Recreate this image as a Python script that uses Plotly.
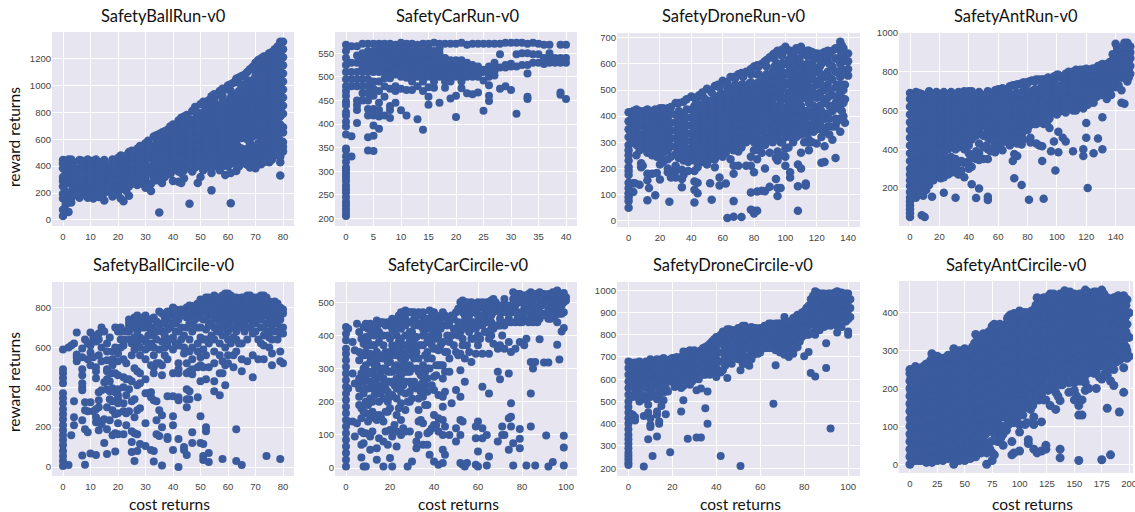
import plotly.graph_objects as go

BLUE = "#3A5B9E"
BG = "#E6E5F0"
W, H = 1135, 512

BALL_RUN = {
 0:[30,75,160,195,250,290,320,385,420,445], 1:[115,210,270,350,440], 2:[60,130,160,300,400,450],
 3:[130,160,210,265,310,360,405,450], 6:[165,225,280,335,385,445], 9:[165,220,270,320,370,410,450],
 11:[160,240,300,440], 12:[205,260,355,400,450], 15:[145,200,250,295,345,395,445], 18:[175,235,285,330,380,430,450],
 21:[160,230,290,340,395,440,480], 22:[140,250,370], 24:[180,250,300,350,400,450,505], 27:[260,310,360,420,470,530],
 30:[240,300,350,400,445,500,570], 32:[215,270,530], 33:[320,370,430,490,550,620], 35:[55], 36:[275,345,400,460,510,570,650],
 39:[340,400,450,510,570,630,695], 40:[290], 42:[285,360,420,480,540,600,660,740], 43:[275], 44:[310], 46:[120],
 45:[400,460,510,570,630,690,780], 48:[390,450,510,570,630,690,750,840], 49:[275], 50:[320],
 51:[370,440,500,560,620,680,740,800,880], 54:[220,350,420,470,530,590,650,710,770,830,920],
 57:[370,430,490,550,610,670,730,790,850,960], 59:[335], 60:[400,460,520,580,640,700,760,820,880,1000], 61:[125,350],
 63:[365,450,510,570,630,690,750,810,870,930,1050], 66:[440,500,640,700,760,820,880,940,1000,1080],
 68:[390,460,520,660,720,780,840,900,960,1020,1120], 70:[385,450,510,650,710,770,830,890,950,1010,1070,1170],
 72:[415,480,540,600,660,720,780,840,900,960,1020,1080,1200], 75:[430,490,550,610,670,730,790,850,910,970,1030,1090,1150,1240],
 77:[480,540,600,660,720,780,840,900,960,1020,1080,1140,1200,1270], 79:[330,430,470,530,590,650,710,770,830,890,950,1010,1070,1130,1190,1250,1325],
 80:[510,545,580,650,690,790,850,910,970,1030,1090,1150,1210,1270,1325],
}
BALL_RUN_MORE = {
 4:[185,240,290,340,385,430], 7:[190,245,300,360,410,440], 10:[190,245,295,345,390,435], 13:[170,230,280,330,375,425],
 17:[210,265,315,360,410], 20:[205,265,315,370,420,460], 23:[215,275,325,375,425,480], 26:[285,335,390,445,500],
 29:[270,325,375,425,475,540], 31:[345,395,460,520,590], 34:[295,350,400,460,520,590,630], 38:[370,425,480,540,600,670],
 41:[390,450,510,570,630,700], 44:[370,430,485,540,600,660,730,770], 47:[360,425,480,540,600,660,720,810],
 50:[400,470,530,590,650,710,770,860], 53:[390,445,500,560,620,680,740,800,890], 56:[400,460,520,580,640,700,760,820,930],
 59:[430,490,550,610,670,730,790,850,970], 62:[420,480,540,600,660,720,780,840,900,1020], 65:[420,470,650,710,770,830,890,950,1070],
 67:[410,480,530,670,730,790,850,910,970,1040,1100], 69:[420,480,690,750,800,860,920,980,1040,1140],
 71:[450,520,570,630,690,750,810,870,930,990,1050,1110,1190], 74:[460,520,580,640,700,760,820,880,940,1000,1060,1120,1220],
 76:[450,510,570,630,690,750,810,870,930,990,1050,1110,1170,1250], 78:[510,570,630,690,750,810,870,930,990,1050,1110,1170,1230,1290],
}
BALL_RUN_EDGE = {
 46:[430,490,550,610,670,730,750], 49:[420,480,540,600,660,720,780,800], 52:[410,470,530,590,650,710,770,830,860],
 55:[400,450,510,570,630,690,750,810,870,900,935], 58:[400,460,520,580,640,700,760,820,880,920,975],
 61:[430,490,550,610,670,730,790,850,910,960,1010], 64:[400,480,540,660,720,780,840,900,960,1020,1060],
 73:[430,510,570,630,690,750,810,870,930,990,1050,1110,1170,1215], 65:[530,610], 69:[540,620], 68:[570,610], 67:[600],
 70:[1110,1140], 72:[1140,1170], 75:[1200], 76:[1210],
 14:[180,240,290,340,385,430], 19:[190,250,300,350,400,445], 25:[270,320,370,420,475,515], 28:[290,340,395,445,500,550],
 35:[310,370,425,485,545,605,640], 37:[320,385,440,490,550,610,660], 40:[370,430,490,550,610,665,710], 43:[350,400,460,520,580,640,700,760],
}
CAR_RUN = {
 0:[205,212,220,228,235,245,255,262,270,280,288,295,302,308,320,332,345,348,378,395,405,418,425,440,448,460,470,480,495,510,525,540,555,568],
 1:[331,374,480,495,510,530,565], 2:[402,430,440,450,480,495,530,565], 3:[450,465,480,495,520,550,570],
 4:[344,372,418,432,450,465,480,495,525,545,570], 5:[343,375,397,418,432,460,475,510,530,555,570],
 6:[390,416,430,445,470,490,510,535,555,570], 7:[418,458,497,510,530,550,570], 8:[413,430,438,475,497,515,535,555,570],
 9:[445,470,480,505,525,545,568], 10:[429,475,500,520,540,560,572], 11:[418,472,498,515,535,555,570],
 12:[472,505,525,545,570], 13:[410,480,500,520,540,560,568], 14:[388,470,490,505,525,545,570],
 15:[441,458,478,500,520,540,560,570], 16:[477,505,525,545,572], 17:[445,510,530,550,570], 18:[477,490,510,525,570],
 19:[454,490,515,535,570], 20:[415,460,510,525,570], 21:[476,490,515,535,572], 22:[465,500,515,530,568], 23:[463,510,525,570],
 24:[467,500,515,570], 25:[428,492,510,515,570], 26:[449,460,482,500,515,570], 27:[503,520,530,570], 28:[475,520,548,570],
 29:[480,520,572], 30:[472,522,572], 31:[422,522,548,572], 32:[525,550,572], 33:[453,458,507,525,550,570], 34:[530,548,572],
 35:[530,548,570], 36:[527,540,568], 37:[530,538,550,568], 38:[530,540], 39:[462,467,530,540,568], 40:[453,530,540,568],
}
CAR_RUN_MORE = {
 2:[510,545], 3:[510,535], 4:[510,535,555], 5:[490,520,545], 6:[525,545,565], 7:[480,520,540,560], 8:[505,525,545,565],
 9:[515,535,555], 10:[510,530,550], 11:[505,525,545,565], 12:[490,515,535,555], 13:[510,530,550], 14:[515,535,555],
 15:[510,530,550], 16:[490,515,535,555], 17:[500,520,540,560], 18:[500,520,540], 19:[505,525], 20:[500,520,535], 21:[505,525],
 22:[505,522], 23:[500,518], 24:[508,522], 26:[510,522], 27:[512], 29:[525], 30:[528],
}
DRONE_RUN = {
 0:[50,75,90,105,125,145,175,190,205,230,250,270,290,320,350,380,415], 3:[110,143,300,360,420], 4:[143], 5:[250,290,320,350,380,410,425], 7:[138],
 8:[205,220], 9:[210], 10:[275,305,335,365,395,420], 12:[78,155,180], 13:[125], 15:[180,250,280,310,340,370,400,420], 17:[97],
 18:[183,245], 20:[158,215,245,275,305,335,365,395,430], 25:[185,200,235,270,300,330,360,395,430], 26:[73], 27:[165,190],
 30:[165,190,210,255,285,315,345,375,405,450], 34:[128,160,195], 35:[175,230,260,290,320,350,380,410,455], 38:[190,225,260],
 40:[245,275,305,335,365,395,425,475], 42:[70,118,150,190], 44:[105,145,205,240], 45:[270,300,330,360,390,420,480],
 50:[215,250,280,310,340,370,400,430,460,505], 52:[143], 53:[80], 55:[205,235,265,295,325,355,385,415,445,475,515], 58:[135,165],
 60:[245,275,305,335,365,395,425,455,485,535], 62:[142], 63:[10], 65:[235,285,315,345,375,405,435,465,495,550], 67:[15,75,180],
 70:[210,265,295,325,355,385,415,445,475,505,560], 72:[14], 75:[210,300,330,360,390,420,450,480,510,570], 78:[42,108,210,245],
 80:[28,38,185,270,300,330,360,390,420,450,480,510,590], 82:[38,112,235], 85:[115,260,300,340,380,410,440,470,500,530,600], 87:[113,200],
 90:[130,260,320,360,400,430,460,490,520,550,625], 94:[160,240], 95:[95,125,230,265,320,350,390,430,480,510,540,570,600,650], 97:[125],
 100:[210,245,275,320,360,400,430,470,520,560,600,665], 103:[165,185], 105:[300,340,380,420,460,500,540,580,640], 108:[38,132,215],
 110:[200,260,330,370,400,440,490,530,570,600,665], 113:[135,142], 115:[270,310,350,400,450,490,540,580,650],
 120:[295,350,380,420,470,520,570,620,640], 123:[222,320], 125:[225,285,340,390,450,500,550,610,645], 130:[310,360,420,480,540,590,650],
 132:[240], 135:[340,390,440,490,550,600,650,685], 138:[375,465,520,570,620,640], 140:[555,580,610,640],
}
DRONE_RUN_MORE = {
 2:[300,330,360,390,415], 7:[270,300,330,360,390,420], 12:[260,290,320,350,380,410,425], 17:[260,290,320,350,380,410,425],
 22:[225,260,290,320,350,380,410,430], 27:[245,285,315,345,375,410,435], 32:[240,270,300,330,360,390,420,450],
 37:[245,275,305,335,365,395,425,465], 42:[230,260,290,320,350,380,410,440,470], 47:[225,265,295,325,355,385,415,445,490],
 52:[235,265,295,325,355,385,415,445,500], 57:[250,280,310,340,370,400,430,460,520], 62:[260,290,320,350,380,410,440,470,530],
 67:[210,270,300,330,360,390,420,450,480,510,550], 72:[280,310,340,370,400,430,460,490,520,565], 77:[315,345,375,405,435,465,495,525,570],
 82:[285,315,345,375,405,435,465,495,525,560,595], 87:[290,325,365,400,430,460,490,520,550,610], 92:[300,345,380,415,445,475,505,535,570,635],
 97:[250,300,340,370,410,455,495,525,560,590,640], 102:[280,340,380,420,450,490,530,570,610,650], 107:[320,360,400,440,480,520,560,600,660],
 112:[300,350,390,420,470,510,550,590,640], 117:[300,370,420,470,510,560,600,645], 122:[370,400,440,490,540,590,630],
 127:[360,410,470,520,570,620,650], 132:[360,390,450,510,570,620,660], 137:[400,450,500,560,610,660],
}
DRONE_RUN_EDGE = {
 43:[250,280,310,340,370,400,430,460], 48:[240,290,320,350,380,410,440,470], 53:[250,280,310,340,370,400,430,460,490],
 58:[270,300,330,360,390,420,450,480,510], 63:[270,300,330,360,390,420,450,480,510,530], 68:[280,310,340,370,400,430,460,490,520,545],
 73:[310,340,370,400,430,460,490,520,550], 78:[320,350,380,410,440,470,500,530,560,580], 83:[270,310,350,380,410,440,470,500,530,560,590],
 88:[300,340,380,410,440,470,500,530,560,590,615], 93:[320,360,400,440,470,500,530,560,590,620,640], 98:[300,350,390,430,470,510,540,570,600,630,655],
 103:[320,360,400,440,480,520,560,590,620,650], 106:[350,390,430,470,510,550,590,620,650], 109:[340,390,420,460,500,540,580,620,650],
 114:[300,330,370,420,470,520,560,600,630,650], 118:[340,400,440,490,540,590,620,640], 123:[350,420,470,520,560,600,640],
 128:[330,390,440,500,550,600,640], 133:[380,430,470,520,570,620,660], 136:[390,420,470,520,580,630,670],
}
ANT_RUN = {
 0:[50,70,90,110,130,150,180,210,240,270,300,340,380,420,460,500,540,580,620,660,690], 4:[150,190,230,270,310,350,390,430,470,510,550,590,630,670,695],
 8:[60,165,205,245,285,325,365,405,445,485,525,565,605,645,685], 10:[50], 9:[160], 13:[215,255,295,335,375,415,455,495,535,575,615,655,700], 15:[155],
 18:[260,300,340,380,420,460,500,540,580,620,660,695], 23:[175,255,300,340,380,420,460,500,540,580,620,660,695],
 28:[280,320,360,420,460,500,540,580,620,660,695], 31:[150], 33:[270,330,410,450,490,530,570,610,650,695],
 37:[255,330,400,440,480,520,560,600,640,700], 42:[220,310,360,450,490,530,570,610,650,700], 45:[148],
 47:[197,345,380,430,500,540,580,620,660,695], 53:[138,155,350,400,460,500,540,580,620,660,700], 58:[385,430,470,510,550,590,630,670,705],
 63:[395,450,490,530,570,610,650,715], 68:[420,460,500,540,580,620,660,725], 70:[340], 71:[250,375], 73:[365,430,470,510,550,590,630,670,735],
 76:[215,425,470,510,550,590,630,670,740], 81:[140,520,560,600,640,680,750], 82:[435,460], 86:[430,530,570,610,650,690,760],
 88:[420], 90:[340,415], 91:[145,530,570,610,650,690,760], 95:[510,560,600,640,680,720,765], 96:[390], 98:[440], 99:[290],
 101:[385,490,590,630,670,710,785], 104:[460], 106:[440,590,640,680,720,760,790], 111:[390,600,640,680,720,760,800], 118:[365,400,610,650,690,730,770,810],
 120:[460,535], 121:[200,630], 125:[380,640,680,720,760,790,815], 128:[455,680,720,760,800,830], 131:[400,565,700,740,780,820,840],
 134:[660,700,740,780,840], 137:[680,720,760,800,850], 140:[720,760,800,840,880,945], 144:[640,705,770,810,850,890,920],
 146:[635,790,830,870,910,950], 148:[750,790,830,870,910,950], 150:[790,830,870,900,930],
}
ANT_RUN_MORE = {
 2:[160,200,240,290,330,370,410,450,490,530,570,610,650,680], 6:[170,210,250,290,330,370,410,450,490,530,570,610,650,690],
 11:[190,235,275,315,355,395,435,475,515,555,595,635,680], 16:[240,280,320,360,400,440,480,520,560,600,640,680],
 21:[250,290,320,360,400,440,480,520,560,600,640,680], 26:[270,310,350,400,440,480,520,560,600,640,680],
 31:[280,310,350,400,440,480,520,560,600,640,680], 35:[290,340,430,470,510,550,590,630,670], 40:[300,340,380,420,470,510,550,590,630,670,700],
 45:[350,390,470,510,550,590,630,670], 50:[350,410,470,520,560,600,640,680], 55:[390,450,490,520,560,600,640,680],
 60:[410,470,510,550,590,630,670,710], 65:[440,510,550,590,630,670,710], 70:[450,480,520,560,600,640,680,730], 75:[490,530,570,610,650,690,735],
 78:[520,560,600,640,680,720,745], 83:[530,580,620,660,700,755], 88:[540,590,630,670,710,760], 93:[550,590,630,670,710,760],
 98:[590,630,670,710,750,775], 103:[600,650,690,730,770], 108:[620,660,700,740,780,800], 113:[600,620,660,700,740,780,810],
 116:[620,660,700,740,780,810], 122:[650,690,730,770,810], 127:[670,700,740,780,820], 133:[690,720,760,800,830], 136:[700,740,780,820,850],
 139:[740,780,820,860,890], 142:[730,780,820,860,900,910], 147:[810,850,890,930], 149:[770,810,850,890,930],
}
ANT_RUN_EDGE = {
 52:[420,480,520,560,600,640,680], 57:[410,450,490,530,570,610,650,690], 62:[430,470,510,550,590,630,670,700], 67:[440,480,520,560,600,640,680,715],
 72:[450,490,530,570,610,650,690,730], 77:[450,490,530,570,610,650,690,730,745], 80:[500,540,580,620,660,700,740], 85:[530,550,590,630,670,710,750],
 90:[540,570,610,650,690,730,760], 94:[550,580,620,660,700,740,770], 100:[580,610,650,690,730,770,785], 105:[600,620,660,700,740,780],
 110:[620,660,700,740,780], 115:[640,680,720,760,800], 120:[640,680,720,760,800,815], 124:[660,700,740,780,815], 130:[680,720,760,800,835],
 135:[720,760,800,840], 138:[740,780,820,860,890], 141:[790,830,870,905,925], 143:[800,840,880,920], 145:[770,810,850,890,930],
}
BALL_CIRCLE = {
 0:[5,30,55,80,110,135,160,185,210,240,265,290,320,345,370,420,445,470,490,590], 2:[10,600], 3:[160,610], 4:[210,250,330,620], 5:[530,550,565,675],
 7:[58,235,385,400,420,460,490,550,595], 8:[12,190,285,325,640], 9:[175,280,540,620], 10:[68,325,510,575,610,675], 12:[60,225,250,290,445,480,500,630,650],
 13:[185,230,300,335,375,560,640,670], 14:[215,385,530,600,700], 15:[120,240,425,680], 16:[65,190,300,390,440,490,535,620], 17:[235,340,380,430,470,650],
 18:[160,285,330,395,510,540,580], 19:[78,170,265,375,470,600,700], 20:[165,220,340,360,530,570,680], 22:[165,280,320,400,450,540,610,640],
 23:[210,270,360,440,520,680], 25:[75,125,180,330,430,560,620,720], 26:[30,170,250,340,495,590,750], 27:[80,165,285,410,480,620,680,760], 28:[115,295,470,650,700],
 30:[105,220,370,440,540,590,630,700,760], 32:[85,350,375,510,620,680], 33:[28,80,335,470,500,600,660,750], 34:[165,235,330,520,640,730], 35:[155,285,520,590,700,780],
 36:[8,200,260,460,510,630,680], 38:[140,150,355,540,610,690,740], 40:[85,210,255,355,470,590,650,720,760,800], 42:[0,140,335,350,470,490,520,610,680,740],
 44:[85,100,570,600,660,780], 45:[60,300,340,390,470,520,700,750,800], 46:[340,380,480,580,640,720,780,810], 47:[120,175,465,490,540,600,680,800],
 49:[350,500,580,620,700,760,820], 50:[120,255,430,510,550,650,790,840], 51:[35,55,115,500,590,640,740,830], 52:[180,200,440,560,690,800,850], 53:[25,70,500,620,760,830],
 55:[380,430,520,580,640,700,770,820,860], 57:[360,470,560,620,680,740,800,850], 58:[40,470,530,660,790], 59:[410,510,600,700,750,800,870], 60:[520,560,640,720,780,840],
 62:[500,560,650,700,740,800,850], 63:[30,190,580,680,760,820], 65:[10,480,540,620,710,780,850], 67:[530,640,740,800,860], 69:[450,560,670,720,780,840],
 71:[540,640,740,800,850], 73:[540,610,660,760,860], 74:[55], 75:[600,680,780,830], 76:[510,570,640,710,790,820], 78:[640,720,760,800], 79:[40,530,580,670,800], 80:[520,670,700,770,790],
}
BALL_CIRCLE_MORE = {
 11:[280,550,640,660], 16:[480,580], 18:[390,470], 20:[270,320,390,460], 21:[600,640,680,700], 24:[280,390,440,640,680,720,740], 26:[650,700,730], 28:[420],
 29:[640,700,750], 31:[370,600,660,720], 33:[560], 36:[720,770], 37:[560,600,660], 39:[640,700,760,780], 41:[620,680,740,790], 43:[640,700,760,790],
 47:[720,760], 48:[700,770,810], 50:[700,750,820], 52:[640,740,780,830], 54:[660,720,780,840], 56:[680,740,800,850], 58:[720,760,820,860], 60:[680,750,800,820,870],
 61:[620,700,760,830,860], 63:[640,720,790,850], 64:[620,700,750,810,840], 66:[680,740,770,820,850], 68:[700,760,820,860], 70:[680,750,800,850], 72:[620,700,770,820,860],
 74:[680,720,800,850], 75:[650,730,810], 77:[680,750,800,830], 79:[700,740,780],
}
BALL_CIRCLE_EDGE = {
 24:[700], 27:[730], 28:[560,600], 29:[720], 31:[740], 32:[700,740], 34:[680,700], 37:[720,750], 38:[640,780], 41:[720,770],
 46:[750], 48:[740,790], 49:[790], 51:[780,810], 53:[710,790,850], 54:[810], 55:[740,800], 56:[770,830], 57:[710,770,830], 59:[660,730,780,830], 60:[760,810],
 61:[790], 62:[770,830], 63:[800,840], 65:[740,810], 66:[710,790], 67:[700,770,830], 68:[790], 69:[750,810], 70:[720,780,820], 71:[770,820], 72:[740,790],
 73:[700,800,830], 74:[770,820], 75:[750,800], 76:[740,770], 77:[780,810], 78:[790,820],
}
CAR_CIRCLE = {
 0:[5,25,45,65,85,105,125,145,165,185,205,225,245,265,285,305,325,345,360,385,405,425], 1:[140,240,420], 3:[140,285,380], 4:[95,255,355],
 5:[135,435], 6:[190,215,260,325,410], 7:[32,70,110,150,180,260,390], 8:[5,75,105,225,300,340,425], 9:[5,105,165,200,270,310,350,395,435],
 11:[55,95,150,210,260,320,370,400], 12:[110,170,240,290,340], 14:[25,60,145,235,270,310,350,425,445], 15:[90,200,250,300,380,435], 17:[5,80,140,210,270,330,370,400],
 19:[70,170,230,290,340,440], 20:[30,115,180,260,320,390,430], 21:[5,95,220,290,340,450], 23:[65,110,160,210,270,310,400,440], 25:[100,145,195,260,300,350,420,470],
 27:[110,175,225,290,330,400,450,475], 28:[5], 29:[110,200,260,310,380,440], 30:[20,340,410,470], 32:[60,80,240,300,350,395,440], 33:[100,140,175,250,330,470],
 35:[70,135,215,260,310,400,440,470], 37:[70,105,190,230,300,350,420], 38:[40,110,300,380,440,475], 40:[20,130,160,235,275,360,410,470], 42:[10,110,150,220,310,355,400,450],
 44:[15,55,100,145,185,215,270,310,380,430,470], 45:[40,125,230,290,350,460], 47:[100,290,330,380,440], 48:[195,400,460], 50:[80,120,235,350,420,470], 52:[15,100,145,215,295,345,410,500],
 53:[10,140,390,440,505], 54:[5,260,330,460,490], 55:[15,370,420,480], 57:[320,390,440,500], 59:[10,90,125,345,420,480], 60:[5,50,140,400,500], 62:[90,120,245,345,430,490],
 64:[8,100,410,470], 65:[35,225,345,390,450,500], 67:[375,420,470,510], 69:[80,290,360,430,490], 70:[268,370,450], 71:[100,125,400,470], 72:[100,360,430,490,510],
 74:[55,150,285,380,450], 75:[125,155,195,350,440,480], 76:[8,75,470,510,530], 77:[360,440,490], 79:[60,88,118,380,440,500,525], 81:[370,450,480,520], 82:[8,390,510],
 84:[125,225,320,450,490,530], 85:[300,470,510], 86:[8,320,460,525], 88:[388,450,490,530], 90:[318,465,500,525], 91:[98,460,510], 92:[5,318,480,525], 94:[18,470,510,530],
 96:[372,465,500,535], 97:[327,490,525], 98:[412,465,510], 99:[8,62,97,422,470,500,528], 100:[505,515],
}
CAR_CIRCLE_MORE = {
 6:[240,270,350], 8:[170,260,375], 10:[140,190,240,290,340,380,420], 12:[200,260,320,370,420], 13:[160,220,280,340,400], 16:[150,230,290,340,400,440],
 18:[110,170,240,300,350,430], 20:[215,290,350], 22:[130,250,300,360,410], 24:[180,240,290,350,380,430,460], 26:[120,250,310,370,440,470], 28:[200,290,350,400,440,470],
 30:[210,250,300,360,440], 31:[330,390,430,470], 34:[145,230,280,370,430,460], 36:[190,250,290,340,400,450], 39:[120,250,330,400,440,470], 41:[130,280,390,430,460],
 43:[310,370,420,450], 46:[350,400,430,450], 49:[370,420,450], 51:[340,400,440,480], 56:[350,410,460,490], 58:[390,440,470,495], 61:[390,450,490], 63:[410,460,480],
 66:[400,440,480,505], 68:[430,480,500], 70:[430,470,490], 73:[440,470,490], 78:[450,470,500,525], 80:[440,470,500,520], 83:[440,470,500,525], 87:[440,480,510],
 89:[460,490,510,525], 93:[450,490,520], 95:[460,480,510,525], 97:[465,510],
}
CAR_CIRCLE_EDGE = {
 7:[285,345], 9:[240,370], 11:[285,345,435], 13:[250,310,370], 15:[160,225,275,330,410], 17:[250,300,440], 19:[200,260,320,400], 21:[260,370,420], 23:[240,340,370],
 25:[230,280,330,390,450], 27:[260,310,370,430], 29:[230,290,350,410,470], 31:[260,370,450], 33:[210,290,370,430], 35:[240,290,370,420], 37:[270,330,380,450],
 39:[370,420,455], 41:[310,360,410,440], 53:[370,420,470], 55:[440,460,500], 57:[420,470], 60:[370,430,460,480], 62:[460,500], 64:[440,500], 66:[420,460], 74:[470,490],
 77:[470,510], 85:[440,490,525], 88:[470,510], 92:[450,500], 96:[440,480,520], 98:[490,525],
}
DRONE_CIRCLE = {
 0:[215,225,240,255,270,290,310,330,350,375,400,425,450,475,500,530,560,590,620,650,680], 1:[445,600,640,675], 2:[420,440,520,570,610,650], 3:[415,430,540,590,630,675],
 5:[500,560,600,640,680], 7:[208,435,510,590,640], 8:[525,560,600,680], 9:[330,450,485,620,660], 10:[385,395,425,520,575,610,650,690], 11:[255,560,600,640,680],
 13:[343,440,455,510,570,620,660,690], 14:[400,410,530,590,640,680], 15:[480,600,650,690], 16:[505,540,620,660,695], 17:[442,560,630,670], 18:[545,600,650,680],
 19:[272,590,630,670,690], 21:[565,610,650,690], 24:[455,560,600,640,680,700], 25:[505,570,620,660,690,725], 27:[332,610,650,700,725], 28:[575,590,640,680,730],
 31:[338,550,620,660,700,720], 33:[338,558,640,680,730], 35:[470,620,660,700,745], 36:[400,545,640,680,720,750], 38:[630,660,700,740,770], 40:[610,650,690,730,770,790],
 42:[255,630,680,720,760,800], 44:[660,700,740,780,810], 45:[605,675,720,760,825], 48:[710,750,790,820], 50:[690,730,770,810,830], 51:[210,640,700], 52:[670,720,760,800,840],
 55:[660,705,750,790,830], 57:[710,750,790,830], 59:[715,750,790,825], 62:[740,780,820,840], 64:[740,780,820,850], 66:[490,750,790,830], 67:[663,730,770,810,850],
 69:[720,760,800,840,850], 71:[710,740,780,820,880], 73:[700,760,800,840,860], 75:[715,770,810,850,875], 77:[745,780,820,860,890], 80:[703,800,840,880,905],
 82:[722,800,840,880,930], 83:[628,860,900,960], 85:[612,800,840,880,920,960,995], 87:[820,860,900,940,980], 89:[835,870,910,950,985], 90:[650,762,840,880,920,960],
 92:[378,840,870,910,950,985], 94:[850,890,930,970,990], 95:[810,840,880,920,960,995], 97:[835,870,910,950,990], 99:[860,890,930,970,985], 100:[800,815,870,910,950,985], 101:[880,920,960],
}
DRONE_CIRCLE_MORE = {
 4:[520,580,620,660], 6:[530,580,620,660], 8:[510,620,640], 10:[540,590,630,670], 12:[530,590,640,680], 14:[560,620,660], 16:[580,640,680], 20:[590,630,670,695],
 22:[580,630,670,700], 23:[600,650,690], 26:[600,640,680,710], 29:[590,630,670,710], 30:[600,650,690,730], 32:[600,640,680,720], 34:[620,660,700,740],
 37:[620,660,700,740,760], 39:[640,680,720,760,780], 41:[640,680,720,760,790], 43:[640,680,720,760,800,815], 46:[680,720,760,800,825], 47:[670,710,750,790,820],
 49:[700,740,780,820], 51:[740,780,820,830], 53:[670,700,740,780,820,840], 54:[700,740,780,820], 56:[690,730,770,810,835], 58:[730,770,810,830], 60:[720,750,790,830],
 61:[740,780,820], 63:[740,760,800,840], 65:[740,770,810,850], 68:[740,780,820,850], 70:[730,770,810,850], 72:[730,770,810,850], 74:[730,780,820,860],
 76:[740,790,830,880], 78:[770,810,850,890], 79:[790,830,870,900], 81:[800,830,870,920], 84:[810,850,890,930,975], 86:[830,870,910,950,990], 88:[840,880,920,960,985],
 91:[850,890,930,970,985], 93:[860,900,940,980], 96:[870,900,940,980,990], 98:[860,900,940,980],
}
ANT_CIRCLE = {
 0:[0,20,40,60,80,100,120,140,160,180,200,220,240,250], 5:[10,30,50,70,90,110,130,150,170,190,210,230,258], 10:[10,35,60,80,100,120,140,160,180,200,220,240,255],
 15:[5,30,55,75,95,115,135,155,175,195,215,235,265], 20:[5,25,50,70,90,110,130,150,170,190,210,230,250,292], 25:[10,30,50,70,90,110,130,150,170,190,210,230,250,285],
 30:[10,35,60,80,100,120,140,160,180,200,220,240,260], 35:[15,40,65,85,105,125,145,165,185,205,225,245,265,288], 40:[0,30,55,80,100,120,140,160,180,200,220,240,260,280,305],
 45:[10,45,70,90,110,130,150,170,190,210,230,250,270,290], 50:[10,55,80,100,120,140,160,180,200,220,240,260,280,305], 55:[15,40,70,90,110,130,150,170,190,210,230,250,270,290,300],
 60:[20,50,85,105,125,145,165,185,205,225,245,265,285,305,343], 65:[30,70,95,115,135,155,175,195,215,235,255,275,295,315,335], 70:[0,30,85,110,130,150,170,190,210,230,250,270,290,310,340],
 75:[10,30,100,125,145,165,185,205,225,245,265,285,305,325,365], 80:[60,110,135,155,175,195,215,235,255,275,295,315,335,360], 85:[50,80,125,150,170,190,210,230,250,270,290,310,330,365],
 90:[105,135,165,185,205,225,245,265,285,305,325,345,390], 93:[25,60], 95:[30,110,150,180,200,220,240,260,280,300,320,340,360,398], 100:[35,85,105,145,185,205,225,245,265,285,305,325,345,385,405],
 105:[105,170,195,215,235,255,275,295,315,335,355,375,400], 108:[55,65], 110:[145,200,220,240,260,280,300,320,340,360,380,395], 113:[40,105,125], 116:[30,170,220,240,260,280,300,320,340,360,380,440],
 120:[35,112,185,225,245,265,285,305,325,345,365,385,420], 124:[40,50,170,240,260,280,300,320,340,360,380,400,425], 128:[155,225,255,275,295,315,335,355,375,395,415,450],
 133:[145,190,270,290,310,330,350,370,390,410,430], 137:[17,40,168,210,260,300,320,340,360,380,400,420,450], 141:[225,270,290,310,330,350,370,390,410,430,458],
 145:[190,215,270,290,310,330,350,370,390,410,430,450], 150:[170,195,215,255,290,310,330,350,370,390,410,430,450], 154:[10,130,155,170,280,300,320,340,360,380,400,420,440], 160:[195,215,240,265,285,305,325,345,365,385,405,425,460],
 165:[250,270,290,310,330,350,370,390,410,430,450], 170:[200,245,270,290,310,330,350,370,390,410,430,455], 175:[12,225,260,290,310,330,350,370,390,410,430,460], 180:[148,235,265,290,310,330,350,370,390,410,440],
 183:[25,220,275,300,320,340,360,380,400,430], 186:[208,250,300,320,340,360,380,400,420,440], 191:[138,275,310,330,350,370,390,410,430], 195:[190,255,285,320,340,360,380,400,445],
 198:[280,300,340,370,400,435], 200:[285,335,400],
}
ANT_CIRCLE_MORE = {
 3:[10,50,90,130,170,210,245], 8:[10,45,90,130,170,210,250], 13:[20,65,105,145,185,225,260], 18:[15,60,100,140,180,220,260], 23:[20,60,100,140,180,220,260],
 28:[20,65,110,150,190,230,270], 33:[25,75,115,155,195,235,275], 38:[20,70,110,150,190,230,270], 43:[40,90,130,170,210,250,290], 48:[40,90,130,170,210,250,290],
 53:[30,70,110,150,190,230,270,295], 58:[40,100,140,180,220,260,300], 63:[50,100,140,180,220,260,300,330], 68:[60,120,160,200,240,280,320,340], 73:[40,110,155,195,235,275,315,345],
 78:[80,120,160,200,240,280,320,350], 83:[70,130,180,220,260,300,340,360], 88:[90,140,180,220,260,300,340,370], 92:[120,170,210,250,290,330,370,395], 98:[125,170,210,250,290,330,370,380],
 103:[130,180,230,270,310,350,395], 107:[110,160,210,250,290,330,370,400], 112:[155,210,250,290,330,370,390], 115:[190,230,270,310,350,390,420], 118:[170,210,250,290,330,370,410,430],
 122:[170,210,250,290,330,370,410,440], 126:[195,240,290,330,370,410,440], 130:[200,240,285,325,365,405,440], 135:[180,230,280,320,360,400,445], 139:[210,240,280,320,360,400,440],
 143:[240,280,320,360,400,440,455], 148:[220,270,310,350,390,430,445], 152:[180,225,265,300,340,380,420,445], 157:[130,170,230,270,310,350,390,430,450], 163:[200,260,290,320,360,400,440,450],
 168:[240,280,320,360,400,440,455], 173:[230,280,320,360,400,440], 178:[240,280,320,360,400,440], 182:[250,280,320,360,400,435], 188:[270,310,350,390,430,440], 193:[280,320,360,400,440], 197:[310,350,390,420],
}
ANT_CIRCLE_EDGE = {
 2:[20,60,100,140,180,220], 7:[20,60,100,140,180,220], 12:[20,70,110,150,190,230], 17:[15,45,85,125,165,205,245], 22:[15,40,80,120,160,200,240,270], 27:[20,40,80,120,160,200,240,265],
 32:[25,70,110,150,190,230,270], 37:[30,55,95,135,175,215,255,280], 42:[20,70,110,150,190,230,270,295], 47:[30,60,100,140,180,220,260,300], 52:[20,70,110,150,190,230,270,300],
 57:[30,80,120,160,200,240,280,310], 62:[35,75,115,155,195,235,275,315,330], 67:[50,100,145,185,225,265,305,345], 72:[35,95,140,180,220,260,300,340,350], 77:[25,80,115,175,215,255,295,335,370],
 82:[95,145,185,225,265,305,345,370], 87:[100,135,175,215,255,295,335,355], 91:[130,155,195,235,275,315,355,385], 96:[130,170,210,270,310,350,390], 101:[165,215,255,295,335,375,400],
 106:[150,185,225,265,305,345,385], 111:[170,210,270,310,350,390,405], 114:[180,250,290,330,370,410], 117:[200,270,310,350,390,425], 121:[205,255,295,335,375,415,435],
 125:[200,230,270,310,350,390,430], 127:[205,265,305,345,385,425,445], 131:[220,260,300,340,380,420,450], 134:[230,280,300,340,380,420,440], 138:[235,280,330,370,410,440],
 142:[250,300,340,380,420,450], 146:[240,300,340,380,420,440,455], 151:[235,300,340,380,420,440], 155:[220,290,330,370,410,450], 159:[225,275,315,355,395,435], 162:[240,295,335,375,415,455],
 166:[260,300,340,380,420,440], 171:[260,300,340,380,420,445], 174:[270,300,340,380,420,450], 177:[260,300,340,380,420,450], 181:[280,320,360,400,430], 184:[260,310,350,390,420],
 187:[280,330,370,410,430], 190:[290,320,360,400,420,445], 194:[300,330,370,410,430], 196:[350,390,420],
}
ANT_CIRCLE_FILL = {
 1:[30,70,110,150,190,230], 6:[40,80,120,160,200,240], 9:[25,70,110,150,190,230], 14:[40,85,125,165,205,245], 19:[40,80,120,160,200,240,275], 24:[40,80,120,160,200,240,270],
 29:[50,90,130,170,210,250,280], 34:[50,95,135,175,215,255,285], 39:[45,90,130,170,210,250,285], 44:[25,80,120,160,200,240,280,300], 49:[25,75,115,155,195,235,275,300],
 54:[55,90,130,170,210,250,290], 59:[70,120,160,200,240,280,320], 64:[80,125,165,205,245,285,325], 69:[80,140,180,220,260,300,330], 74:[60,130,175,215,255,295,335,355],
 79:[100,145,185,225,265,305,345], 84:[100,160,200,240,280,320,350], 89:[120,160,200,240,280,320,360,385], 94:[170,210,250,290,330,370,390], 99:[150,190,230,270,310,350,395],
 102:[190,240,280,320,360], 104:[200,250,290,330,370,400], 109:[180,230,270,310,350,390], 119:[230,270,310,350,390,420], 123:[200,270,310,350,390,425], 129:[230,270,310,350,390,430],
 132:[210,250,290,330,370,410,440], 136:[250,290,330,370,410,445], 140:[250,300,340,380,420,445], 144:[260,300,340,380,420,450], 147:[260,300,340,380,420,440], 149:[240,300,340,380,420],
 153:[250,310,350,390,430], 156:[240,300,340,380,420,440], 158:[260,300,340,380,420,440], 161:[250,300,340,380,420], 164:[270,310,350,390,430], 167:[260,310,350,390,430],
 169:[260,300,340,380,420,450], 172:[270,310,350,390,430], 176:[280,320,360,400,440], 179:[270,320,360,400,430], 185:[280,320,360,400,430], 189:[300,340,380,420], 192:[290,340,380,420,440],
}

TITLES = ["SafetyBallRun-v0", "SafetyCarRun-v0", "SafetyDroneRun-v0", "SafetyAntRun-v0",
          "SafetyBallCircile-v0", "SafetyCarCircile-v0", "SafetyDroneCircile-v0", "SafetyAntCircile-v0"]
SERIES = [(BALL_RUN, BALL_RUN_MORE, BALL_RUN_EDGE), (CAR_RUN, CAR_RUN_MORE), (DRONE_RUN, DRONE_RUN_MORE, DRONE_RUN_EDGE),
          (ANT_RUN, ANT_RUN_MORE, ANT_RUN_EDGE), (BALL_CIRCLE, BALL_CIRCLE_MORE, BALL_CIRCLE_EDGE), (CAR_CIRCLE, CAR_CIRCLE_MORE, CAR_CIRCLE_EDGE),
          (DRONE_CIRCLE, DRONE_CIRCLE_MORE), (ANT_CIRCLE, ANT_CIRCLE_MORE, ANT_CIRCLE_EDGE, ANT_CIRCLE_FILL)]
MARKER_SIZES = [8.5, 8, 8.5, 8.5, 8, 8, 8, 9]

# pixel box of each panel: left, right, top, bottom
BOXES = [(52,294,32,226),(335,577,32,226),(617,860,33,227),(899,1135,33,226),
         (52,294,282,476),(335,577,282,476),(617,860,282,476),(899,1133,281,473)]
XRANGES = [(-4,84),(-2,42),(-7.4,147.6),(-7.5,153.2),(-4,84),(-5,105),(-5.2,105.4),(-10,203.5)]
YRANGES = [(-45,1398),(184,595),(-24,718),(4,1000),(-45,928),(-24,561),(165,1037),(-23,484)]
XTICKS = [list(range(0,81,10)),list(range(0,41,5)),list(range(0,141,20)),list(range(0,141,20)),
          list(range(0,81,10)),list(range(0,101,20)),list(range(0,101,20)),list(range(0,201,25))]
YTICKS = [list(range(0,1201,200)),list(range(200,551,50)),list(range(0,701,100)),list(range(200,1001,200)),
          list(range(0,801,200)),list(range(0,501,100)),list(range(200,1001,100)),list(range(0,401,100))]
TITLE_X = [163,458,733,1016]
COST_X = [169,458,740,1032]

fig = go.Figure()
for i, (parts, box) in enumerate(zip(SERIES, BOXES)):
    n = "" if i == 0 else str(i + 1)
    xs = [k for d in parts for k, vals in d.items() for _ in vals]
    ys = [v for d in parts for vals in d.values() for v in vals]
    fig.add_trace(go.Scatter(x=xs, y=ys, mode="markers", xaxis="x" + n, yaxis="y" + n,
                             marker=dict(color=BLUE, size=MARKER_SIZES[i], line=dict(width=0)), showlegend=False))
    l, r, t, b = box
    common = dict(automargin=False, showgrid=True, gridcolor="white", gridwidth=1, zeroline=False, showline=False,
                  ticklabeloverflow="allow", tickfont=dict(family="Liberation Sans", size=9.5, color="#444444"))
    fig.update_layout({
        "xaxis" + n: dict(domain=[l / W, r / W], range=XRANGES[i], tickvals=XTICKS[i], anchor="y" + n,
                          ticks="outside", ticklen=2, tickcolor="rgba(0,0,0,0)", **common),
        "yaxis" + n: dict(domain=[1 - b / H, 1 - t / H], range=YRANGES[i], tickvals=YTICKS[i], anchor="x" + n, ticks="", **common),
    })
    row = i // 4
    col = i % 4
    fig.add_annotation(text=TITLES[i], x=TITLE_X[col] / W, y=1 - ([16, 265][row]) / H, xref="paper", yref="paper",
                       xanchor="center", yanchor="middle", showarrow=False,
                       font=dict(family="Lato", size=16.5, color="#111111"))
    if row == 1:
        fig.add_annotation(text="cost returns", x=COST_X[col] / W, y=1 - 504 / H, xref="paper", yref="paper",
                           xanchor="center", yanchor="middle", showarrow=False,
                           font=dict(family="Lato", size=15.5, color="#111111"))
for yc in (137, 382):
    fig.add_annotation(text="reward returns", x=14 / W, y=1 - yc / H, xref="paper", yref="paper", textangle=-90,
                       xanchor="center", yanchor="middle", showarrow=False,
                       font=dict(family="Lato", size=15.5, color="#111111"))

fig.update_layout(width=W, height=H, margin=dict(l=0, r=0, t=0, b=0), plot_bgcolor=BG, paper_bgcolor="white",
                  showlegend=False)
fig.write_html("out.html", config={"displayModeBar": False},
               post_script="document.body.style.margin='0';document.documentElement.style.overflow='hidden';")
